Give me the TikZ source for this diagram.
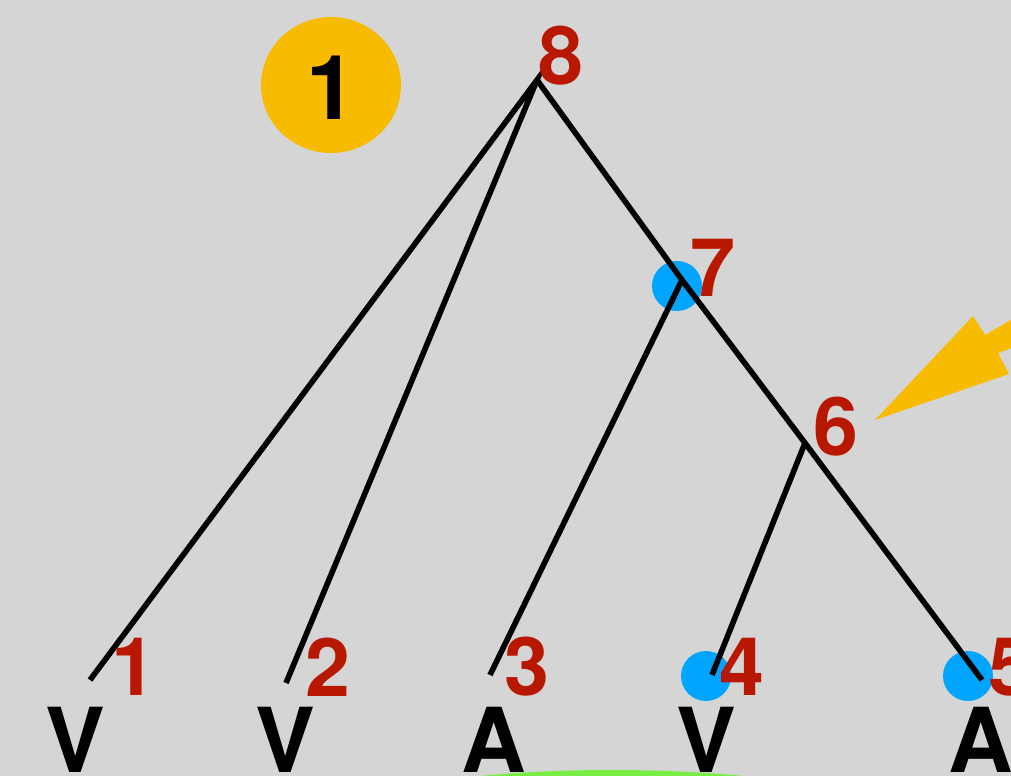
\documentclass[tikz,border=0pt]{standalone}
\usepackage{fontspec}
\setmainfont{TeX Gyre Heros}
\definecolor{bggray}{RGB}{213,213,213}
\definecolor{numred}{RGB}{184,24,0}
\definecolor{dotblue}{RGB}{0,165,255}
\definecolor{markyellow}{RGB}{247,188,0}
\definecolor{spangreen}{RGB}{120,238,68}
\tikzset{
  branch/.style={line width=3.2pt, line cap=butt},
  num/.style={inner sep=0pt, text=numred, font=\fontsize{46}{46}\selectfont\bfseries},
  cat/.style={inner sep=0pt, text=black, font=\fontsize{51}{51}\selectfont\bfseries},
  dot/.style={fill=dotblue}
}
\begin{document}
\begin{tikzpicture}[x=0.02cm, y=-0.02cm]
  \useasboundingbox (0,0) rectangle (1011,776);
  \fill[bggray] (0,0) rectangle (1011,776);
  \clip (0,0) rectangle (1011,776);

  \fill[spangreen] (612,810) ellipse (250 and 40);
  \fill[markyellow] (331,85) ellipse (70 and 68);
  \node[cat] (badge) at (331,88) {1};

  \fill[dot] (677,286) circle (25);
  \fill[dot] (706,676) circle (25);
  \fill[dot] (968,676) circle (25);

  \coordinate (n8) at (537,80);
  \coordinate (n7) at (682,280);
  \coordinate (n6) at (805,443);
  \coordinate (l1) at (90,680);
  \coordinate (l2) at (286,683);
  \coordinate (l3) at (490,675);
  \coordinate (l4) at (712,675);
  \coordinate (l5) at (982,680);

  \draw[branch] (l1) -- (n8) -- (l2);
  \draw[branch] (n8) -- (n7) -- (n6) -- (l5);
  \draw[branch] (n7) -- (l3);
  \draw[branch] (n6) -- (l4);

  \node[num] (t8) at (561,56) {8};
  \node[num] (t7) at (713,268) {7};
  \node[num] (t6) at (836,427) {6};
  \node[num] (t1) at (134,667) {1};
  \node[num] (t2) at (328,667) {2};
  \node[num] (t3) at (527,667) {3};
  \node[num] (t4) at (742,667) {4};
  \node[num] (t5) at (1011,667) {5};

  \node[cat] (w1) at (75,740) {V};
  \node[cat] (w2) at (285,740) {V};
  \node[cat] (w3) at (494,740) {A};
  \node[cat] (w4) at (706,740) {V};
  \node[cat] (w5) at (981,740) {A};

  \fill[markyellow] (875,420) -- (973,316) -- (985,335) -- (1040,303)
    -- (1050,335) -- (998,353) -- (1009,374) -- cycle;
\end{tikzpicture}
\end{document}
